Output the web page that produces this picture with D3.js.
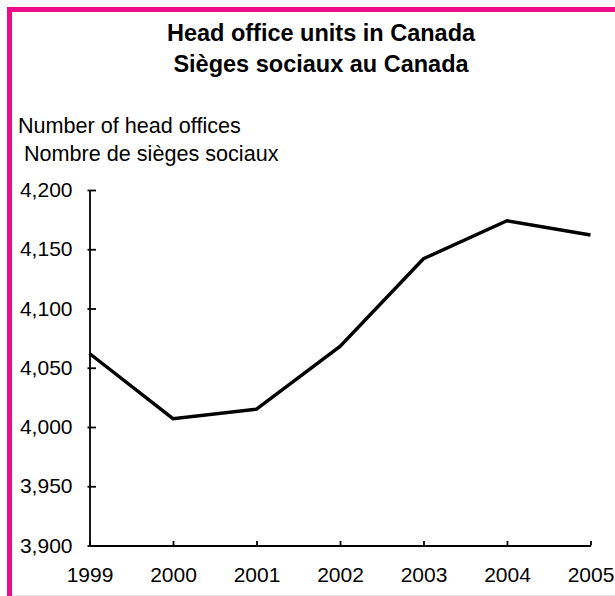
<!DOCTYPE html>
<html>
<head>
<meta charset="utf-8">
<script src="https://cdn.jsdelivr.net/npm/d3@7/dist/d3.min.js"></script>
<style>
html, body { margin: 0; padding: 0; background: #fff; }
svg { display: block; }
text { font-family: "Liberation Sans", Arial, sans-serif; fill: #000; }
</style>
</head>
<body>
<svg id="chart" width="615" height="596"></svg>
<script>
const titleLines = ["Head office units in Canada", "Sièges sociaux au Canada"];
const yTitleLines = ["Number of head offices", " Nombre de sièges sociaux"];
const years = [1999, 2000, 2001, 2002, 2003, 2004, 2005];
const headOffices = [4062, 4007, 4015, 4068, 4142, 4174, 4162];
const yTicks = [3900, 3950, 4000, 4050, 4100, 4150, 4200];

const svg = d3.select("#chart");

// frame
svg.append("rect").attr("x", 0).attr("y", 0).attr("width", 615).attr("height", 596).attr("fill", "#fff");
svg.append("line").attr("x1", 12).attr("x2", 615).attr("y1", 595.5).attr("y2", 595.5)
  .attr("stroke", "#e4e4e4").attr("stroke-width", 1);
svg.append("rect").attr("x", 9.5).attr("y", 9.5).attr("width", 640).attr("height", 640)
  .attr("fill", "none").attr("stroke", "#EC0C8C").attr("stroke-width", 5);

// title
svg.append("g").selectAll("text").data(titleLines).join("text")
  .attr("x", 321).attr("y", (d, i) => 41 + i * 31)
  .attr("text-anchor", "middle").attr("font-weight", "bold").attr("font-size", 23.5)
  .text(d => d);

// y title
svg.append("g").selectAll("text").data(yTitleLines).join("text")
  .attr("x", 18).attr("y", (d, i) => 133 + i * 28)
  .attr("font-size", 21.6).attr("xml:space", "preserve").style("white-space", "pre")
  .text(d => d);

const x = d3.scaleLinear().domain([1999, 2005]).range([89.5, 590.5]);
const y = d3.scaleLinear().domain([3900, 4200]).range([545.5, 190]);

// y axis
svg.append("g").attr("transform", "translate(89.5,0)")
  .call(d3.axisLeft(y).tickValues(yTicks).tickSizeInner(-6.5).tickSizeOuter(0).tickPadding(17)
    .tickFormat(d3.format(",")));
svg.append("g").attr("transform", "translate(89.5,0)")
  .call(d3.axisLeft(y).tickValues(yTicks).tickSize(2).tickFormat(""))
  .call(g => g.select(".domain").remove());

// x axis
svg.append("g").attr("transform", "translate(0,545.5)")
  .call(d3.axisBottom(x).tickValues(years).tickSizeInner(-4.5).tickSizeOuter(0).tickPadding(22)
    .tickFormat(d3.format("d")));

svg.selectAll(".tick text").attr("font-size", 21).attr("font-family", '"Liberation Sans", Arial, sans-serif').attr("fill", "#000");
svg.selectAll(".domain, .tick line").attr("stroke", "#000").attr("stroke-width", 1.8);

// line
const line = d3.line().x((d, i) => x(years[i])).y(d => y(d));
svg.append("path").datum(headOffices)
  .attr("d", line).attr("fill", "none").attr("stroke", "#000")
  .attr("stroke-width", 3.4).attr("stroke-linejoin", "miter");
</script>
</body>
</html>
